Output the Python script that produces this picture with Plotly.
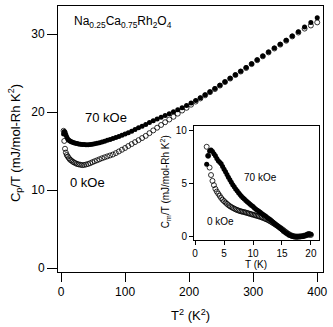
import plotly.graph_objects as go

# temperature grid (K)
temp_k = [
    2.0, 2.25, 2.5, 2.75, 3.0, 3.25, 3.5, 3.75,
    4.0, 4.25, 4.5, 4.75, 5.0, 5.25, 5.5, 5.75,
    6.0, 6.25, 6.5, 6.75, 7.0, 7.25, 7.5, 7.75,
    8.0, 8.25, 8.5, 8.75, 9.0, 9.25, 9.5, 9.75,
    10.0, 10.25, 10.5, 10.75, 11.0, 11.25, 11.5, 11.75,
    12.0, 12.25, 12.5, 12.75, 13.0, 13.25, 13.5, 13.75,
    14.0, 14.25, 14.5, 14.75, 15.0, 15.25, 15.5, 15.75,
    16.0, 16.25, 16.5, 16.75, 17.0, 17.25, 17.5, 17.75,
    18.0, 18.25, 18.5, 18.75, 19.0, 19.25, 19.5, 19.75,
    20.0,
]

# Cp/T (mJ/mol-Rh K^2), main panel
cp_0koe = [
    17.6, 16.3, 15.3, 14.8, 14.5, 14.3, 14.1, 13.9,
    13.8, 13.65, 13.55, 13.45, 13.35, 13.3, 13.25, 13.2,
    13.22, 13.28, 13.35, 13.45, 13.58, 13.7, 13.82, 13.95,
    14.08, 14.2, 14.32, 14.44, 14.56, 14.74, 14.95, 15.17,
    15.4, 15.65, 15.9, 16.15, 16.4, 16.67, 16.95, 17.3,
    17.65, 18.0, 18.35, 18.7, 19.05, 19.4, 19.8, 20.2,
    20.55, 20.95, 21.35, 21.75, 22.15, 22.55, 22.95, 23.4,
    23.85, 24.3, 24.75, 25.2, 25.65, 26.15, 26.65, 27.15,
    27.65, 28.15, 28.65, 29.15, 29.7, 30.2, 30.7, 31.1,
    31.5,
]
cp_70koe = [
    17.2, 17.5, 17.4, 17.1, 16.8, 16.55, 16.4, 16.3,
    16.2, 16.12, 16.06, 16.0, 15.96, 15.92, 15.88, 15.85,
    15.83, 15.82, 15.82, 15.84, 15.88, 15.94, 16.0, 16.08,
    16.17, 16.27, 16.38, 16.5, 16.62, 16.75, 16.88, 17.02,
    17.18, 17.36, 17.55, 17.76, 17.98, 18.2, 18.42, 18.65,
    18.88, 19.1, 19.33, 19.56, 19.8, 20.04, 20.3, 20.56,
    20.85, 21.15, 21.48, 21.84, 22.22, 22.62, 23.02, 23.45,
    23.9, 24.35, 24.8, 25.25, 25.7, 26.2, 26.7, 27.2,
    27.7, 28.2, 28.7, 29.2, 29.75, 30.3, 30.9, 31.5,
    32.1,
]

# Cm/T (mJ/mol-Rh K^2), inset
cm_0koe = [
    8.45, 7.6, 6.5, 5.8, 5.25, 4.85, 4.5, 4.25,
    4.05, 3.85, 3.65, 3.48, 3.35, 3.22, 3.1, 2.98,
    2.88, 2.8, 2.72, 2.65, 2.58, 2.52, 2.47, 2.42,
    2.38, 2.35, 2.32, 2.28, 2.24, 2.2, 2.16, 2.12,
    2.08, 2.04, 2.0, 1.96, 1.92, 1.88, 1.83, 1.78,
    1.72, 1.66, 1.6, 1.53, 1.45, 1.37, 1.28, 1.19,
    1.1, 1.01, 0.92, 0.83, 0.73, 0.63, 0.52, 0.42,
    0.32, 0.24, 0.16, 0.11, 0.07, 0.04, 0.03, 0.03,
    0.04, 0.05, 0.07, 0.1, 0.13, 0.16, 0.2, 0.22,
    0.18,
]
cm_70koe = [
    6.8, 7.6, 8.05, 8.15, 8.0, 7.8, 7.6, 7.35,
    7.15, 7.0, 6.85, 6.6, 6.35, 6.1, 5.85, 5.6,
    5.35, 5.12, 4.9, 4.7, 4.5, 4.32, 4.15, 3.98,
    3.82, 3.68, 3.55, 3.42, 3.3, 3.18, 3.06, 2.95,
    2.84, 2.72, 2.6, 2.5, 2.4, 2.3, 2.2, 2.1,
    2.0, 1.9, 1.8, 1.7, 1.6, 1.5, 1.38, 1.26,
    1.14, 1.02, 0.9, 0.78, 0.66, 0.54, 0.43, 0.33,
    0.24, 0.16, 0.1, 0.05, 0.02, 0.0, 0.0, 0.0,
    0.01, 0.02, 0.04, 0.07, 0.12, 0.2, 0.3, 0.3,
    0.25,
]

t_sq = [t * t for t in temp_k]

FONT = "Liberation Sans, Arial, sans-serif"
open_mk = dict(symbol="circle-open", size=5, color="black", line=dict(width=0.8, color="black"))
fill_mk = dict(symbol="circle", size=5, color="black", line=dict(width=0))

fig = go.Figure()
fig.add_trace(go.Scatter(x=t_sq, y=cp_0koe, mode="markers", marker=open_mk, name="0 kOe"))
fig.add_trace(go.Scatter(x=t_sq, y=cp_70koe, mode="markers", marker=fill_mk, name="70 kOe"))
fig.add_trace(go.Scatter(x=temp_k, y=cm_0koe, mode="markers", marker=open_mk,
                         xaxis="x2", yaxis="y2", name="0 kOe inset"))
fig.add_trace(go.Scatter(x=temp_k, y=cm_70koe, mode="markers", marker=fill_mk,
                         xaxis="x2", yaxis="y2", name="70 kOe inset"))

axis_common = dict(showline=True, linecolor="black", linewidth=1, mirror=True,
                   ticks="outside", tickcolor="black", tickwidth=1,
                   showgrid=False, zeroline=False)

fig.update_layout(
    width=333, height=327,
    margin=dict(l=58, r=10, t=6, b=55),
    paper_bgcolor="white", plot_bgcolor="white",
    showlegend=False,
    font=dict(family=FONT, color="black", size=12),
    xaxis=dict(axis_common, range=[-4.7, 409], tickvals=[0, 100, 200, 300, 400],
               ticklen=9, tickfont=dict(size=12), domain=[0, 1]),
    yaxis=dict(axis_common, range=[-0.5, 33.6], tickvals=[0, 10, 20, 30],
               ticklen=10, tickfont=dict(size=12), domain=[0, 1]),
    xaxis2=dict(axis_common, range=[-0.2, 21.4], tickvals=[0, 5, 10, 15, 20],
                ticklen=4, tickfont=dict(size=10), domain=[0.513, 0.985], anchor="y2"),
    yaxis2=dict(axis_common, range=[-0.3, 10.4], tickvals=[0, 5, 10],
                ticklen=4, tickfont=dict(size=10), domain=[0.12, 0.549], anchor="x2"),
)

notes = [
    (0.053, 0.94, "Na<sub>0.25</sub>Ca<sub>0.75</sub>Rh<sub>2</sub>O<sub>4</sub>", 12, 0, "left"),
    (0.094, 0.579, "70 kOe", 13, 0, "left"),
    (0.038, 0.335, "0 kOe", 13, 0, "left"),
    (0.694, 0.357, "70 kOe", 10, 0, "left"),
    (0.555, 0.188, "0 kOe", 10, 0, "left"),
    (0.5, -0.162, "T<sup>2</sup> (K<sup>2</sup>)", 13, 0, "center"),
    (-0.162, 0.485, "C<sub>p</sub>/T (mJ/mol-Rh K<sup>2</sup>)", 13, -90, "center"),
    (0.747, 0.03, "T (K)", 10, 0, "center"),
    (0.404, 0.338, "C<sub>m</sub>/T (mJ/mol-Rh K<sup>2</sup>)", 10, -90, "center"),
]
for x, y, text, size, angle, anchor in notes:
    fig.add_annotation(x=x, y=y, xref="paper", yref="paper", text=text, showarrow=False,
                       xanchor=anchor, yanchor="middle", textangle=angle,
                       font=dict(family=FONT, size=size, color="black"))

# page body has a default 8px margin; drop it so the figure sits at the corner
fig.write_html("out.html", config={"displayModeBar": False},
               post_script="document.body.style.margin='0';")
